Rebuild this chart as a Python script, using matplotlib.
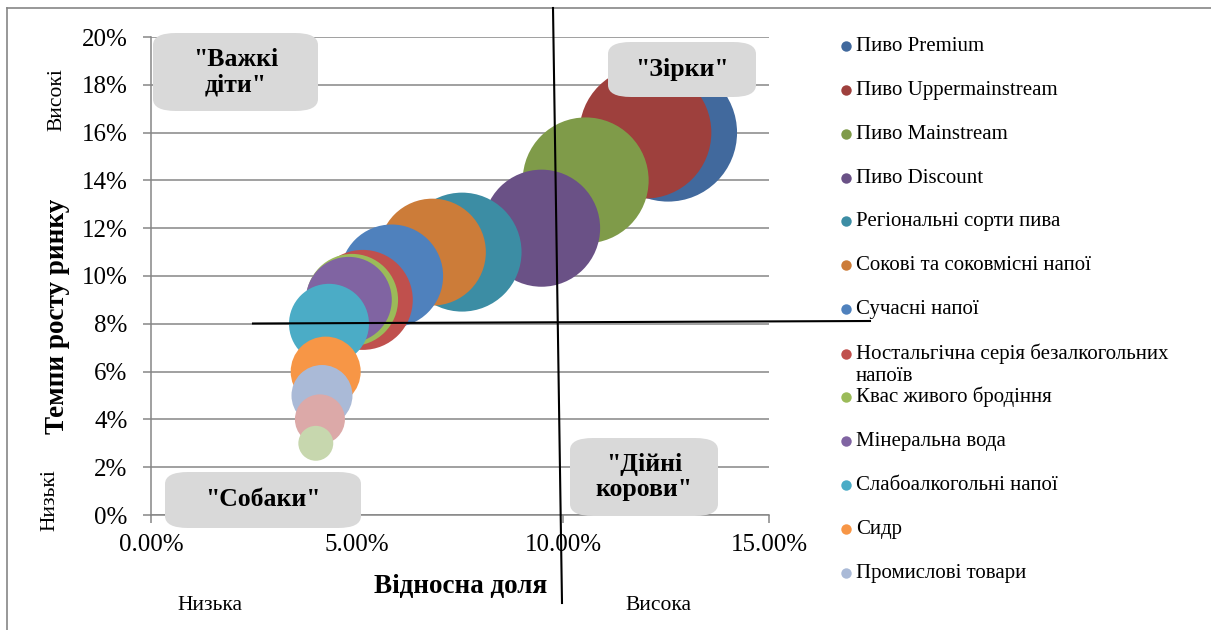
import matplotlib
matplotlib.use("Agg")
import matplotlib.pyplot as plt
from matplotlib.patches import FancyBboxPatch
from matplotlib.lines import Line2D
from matplotlib.ticker import FuncFormatter

plt.rcParams['font.family'] = ['Liberation Serif', 'DejaVu Serif']

# ---- data ----
categories = [
    "Пиво Premium", "Пиво Uppermainstream", "Пиво Mainstream", "Пиво Discount",
    "Регіональні сорти пива", "Сокові та соковмісні напої", "Сучасні напої",
    "Ностальгічна серія безалкогольних\nнапоїв", "Квас живого бродіння",
    "Мінеральна вода", "Слабоалкогольні напої", "Сидр", "Промислові товари",
    "", "",
]
rel_share = [0.1255, 0.120, 0.1055, 0.0948, 0.0755, 0.0683, 0.0584, 0.0514,
             0.0488, 0.0480, 0.0432, 0.0424, 0.0415, 0.0410, 0.0400]
growth = [0.16, 0.16, 0.14, 0.12, 0.11, 0.11, 0.10, 0.09, 0.09, 0.09,
          0.08, 0.06, 0.05, 0.04, 0.03]
bubble_size = [15.0, 13.7, 12.5, 10.8, 11.15, 9.0, 8.36, 7.88, 6.67, 5.83,
               5.04, 3.86, 2.93, 1.97, 0.96]
colors = ["#41699D", "#9E403D", "#7F9B49", "#6A5186", "#3C8DA4", "#CC7C39",
          "#4F81BD", "#C0504D", "#9BBB59", "#8064A2", "#4BACC6", "#F79646",
          "#AABAD7", "#DCA9A8", "#C7D7AE"]
x_ticks = [0.0, 0.05, 0.10, 0.15]
y_ticks = [0.0, 0.02, 0.04, 0.06, 0.08, 0.10, 0.12, 0.14, 0.16, 0.18, 0.20]
quadrants = ['"Важкі\nдіти"', '"Зірки"', '"Дійні\nкорови"', '"Собаки"']

W, H = 1211, 630
fig = plt.figure(figsize=(W / 100, H / 100), dpi=100)
ax = fig.add_axes([151 / W, 1 - 515 / H, (769 - 151) / W, (515 - 37) / H])

grey = "#868686"
for xi, yi, si, ci in zip(rel_share, growth, bubble_size, colors):
    ax.scatter([xi], [yi], s=si * 658, color=ci, edgecolors='none', zorder=3)

ax.set_xlim(0, 0.15)
ax.set_ylim(0, 0.20)
ax.set_xticks(x_ticks)
ax.set_yticks(y_ticks)
ax.xaxis.set_major_formatter(FuncFormatter(lambda v, p: f"{v * 100:.2f}%"))
ax.yaxis.set_major_formatter(FuncFormatter(lambda v, p: f"{v * 100:.0f}%"))
ax.tick_params(axis='both', labelsize=18, color=grey, width=1.1, length=6,
               direction='out')
ax.tick_params(axis='y', pad=11)
ax.tick_params(axis='x', pad=8)
ax.grid(axis='y', color=grey, lw=1.1, zorder=0)
ax.set_axisbelow(True)
for s in ['top', 'right']:
    ax.spines[s].set_visible(False)
for s in ['left', 'bottom']:
    ax.spines[s].set_color(grey)
    ax.spines[s].set_linewidth(1.1)

# axis titles
fig.text(461 / W, 1 - 586 / H, "Відносна доля", fontsize=19.5, fontweight='bold',
         ha='center', va='center')
fig.text(57 / W, 1 - 316 / H, "Темпи росту ринку", fontsize=19.5, fontweight='bold',
         ha='center', va='center', rotation=90)
fig.text(57 / W, 1 - 100 / H, "Високі", fontsize=15.5, ha='center', va='center', rotation=90)
fig.text(50 / W, 1 - 500 / H, "Низькі", fontsize=15.5, ha='center', va='center', rotation=90)
fig.text(210 / W, 1 - 605 / H, "Низька", fontsize=15.5, ha='center', va='center')
fig.text(658 / W, 1 - 605 / H, "Висока", fontsize=15.5, ha='center', va='center')

# quadrant labels
boxes = [(153, 33, 318, 111), (608, 42, 756, 97), (570, 438, 718, 516), (165, 472, 361, 528)]
for (x0, y0, x1, y1), lab in zip(boxes, quadrants):
    r = 12
    p = FancyBboxPatch((x0 / W, 1 - y1 / H), (x1 - x0) / W, (y1 - y0) / H,
                       boxstyle=f"round,pad=0,rounding_size={r / H}",
                       transform=fig.transFigure, facecolor="#D9D9D9",
                       edgecolor='none', zorder=5)
    fig.add_artist(p)
    fig.text((x0 + x1) / 2 / W, 1 - (y0 + y1) / 2 / H, lab, fontsize=18.5,
             fontweight='bold', ha='center', va='center', zorder=6,
             linespacing=1.15)

# dividing lines
fig.add_artist(Line2D([253 / W, 870 / W], [1 - 323.5 / H, 1 - 321 / H],
                      color='black', lw=1.5, zorder=7))
fig.add_artist(Line2D([553 / W, 562 / W], [1 - 8 / H, 1 - 603 / H],
                      color='black', lw=1.5, zorder=7))

# outer frame
fig.add_artist(Line2D([7 / W, 7 / W], [0, 1 - 8 / H], color=grey, lw=1.2))
fig.add_artist(Line2D([7 / W, 1], [1 - 8 / H, 1 - 8 / H], color=grey, lw=1.2))

# legend
leg_y = [46, 90, 134, 178, 221, 265, 309, 354, 397, 441, 485, 529, 573]
for i, lab in enumerate(categories[:13]):
    yy = 1 - leg_y[i] / H
    fig.add_artist(Line2D([846 / W], [yy], marker='o', markersize=7.5,
                          color=colors[i], markeredgecolor='none', lw=0))
    if '\n' in lab:
        fig.text(856 / W, yy + 10 / H, lab, fontsize=15, ha='left', va='top',
                 linespacing=1.2)
    else:
        fig.text(856 / W, yy - 5 / H, lab, fontsize=15, ha='left', va='baseline')

fig.savefig("out.png", dpi=100)
